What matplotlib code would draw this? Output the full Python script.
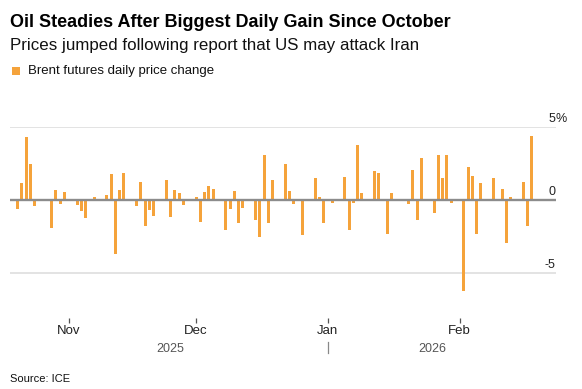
import datetime as dt

import matplotlib

matplotlib.use("Agg")

import matplotlib.pyplot as plt
import matplotlib.dates as mdates
from matplotlib.patches import Rectangle


# =========================
# DATA
# =========================

dates = [
    "2025-10-20", "2025-10-21", "2025-10-22", "2025-10-23", "2025-10-24",
    "2025-10-27", "2025-10-28", "2025-10-29", "2025-10-30", "2025-10-31",
    "2025-11-03", "2025-11-04", "2025-11-05", "2025-11-06", "2025-11-07",
    "2025-11-10", "2025-11-11", "2025-11-12", "2025-11-13", "2025-11-14",
    "2025-11-17", "2025-11-18", "2025-11-19", "2025-11-20", "2025-11-21",
    "2025-11-24", "2025-11-25", "2025-11-26", "2025-11-27", "2025-11-28",
    "2025-12-01", "2025-12-02", "2025-12-03", "2025-12-04", "2025-12-05",
    "2025-12-08", "2025-12-09", "2025-12-10", "2025-12-11", "2025-12-12",
    "2025-12-15", "2025-12-16", "2025-12-17", "2025-12-18", "2025-12-19",
    "2025-12-22", "2025-12-23", "2025-12-24", "2025-12-26",
    "2025-12-29", "2025-12-30", "2025-12-31", "2026-01-02",
    "2026-01-05", "2026-01-06", "2026-01-07", "2026-01-08", "2026-01-09",
    "2026-01-12", "2026-01-13", "2026-01-14", "2026-01-15", "2026-01-16",
    "2026-01-20", "2026-01-21", "2026-01-22", "2026-01-23",
    "2026-01-26", "2026-01-27", "2026-01-28", "2026-01-29", "2026-01-30",
    "2026-02-02", "2026-02-03", "2026-02-04", "2026-02-05", "2026-02-06",
    "2026-02-09", "2026-02-10", "2026-02-11", "2026-02-12", "2026-02-13",
    "2026-02-16", "2026-02-17", "2026-02-18",
]

pct_change = [
    -0.64, 1.18, 4.32, 2.50, -0.41,
    0.10, -1.95, 0.68, -0.25, 0.52,
    -0.36, -0.77, -1.25, -0.05, 0.18,
    0.34, 1.80, -3.70, 0.66, 1.86,
    -0.41, 1.20, -1.77, -0.70, -1.09,
    1.34, -1.16, 0.66, 0.50, -0.32,
    0.18, -1.48, 0.55, 0.95, 0.75,
    -2.07, -0.64, 0.64, -1.55, -0.55,
    -1.39, -2.52, 3.07, -1.55, 1.39,
    2.48, 0.64, -0.25, -2.39,
    1.52, 0.18, -1.57, -0.18,
    1.57, -2.05, -0.18, 3.80, 0.50,
    2.02, 1.82, -0.09, -2.34, 0.50,
    -0.25, 2.05, -1.39, 2.89,
    -0.91, 3.05, 1.52, 3.05, -0.23,
    -6.20, 2.25, 1.64, -2.34, 1.14,
    1.52, -0.07, 0.77, -2.95, 0.23,
    1.25, -1.77, 4.41,
]

y_ticks = [5, 0, -5]
y_tick_labels = ["5", "0", "-5"]

TITLE = "Oil Steadies After Biggest Daily Gain Since October"
SUBTITLE = "Prices jumped following report that US may attack Iran"
LEGEND_LABEL = "Brent futures daily price change"
SOURCE = "Source: ICE"

BAR_COLOR = "#f5a33b"
FONT = ["Liberation Sans", "DejaVu Sans"]


def draw_chart():

    plt.rcParams["font.family"] = FONT

    fig = plt.figure(figsize=(5.82, 3.89), dpi=100)

    W, H = 582, 389

    # plot box in pixels: x 10..556, y 127 (5%) .. 302 (-7)
    ax = fig.add_axes([10 / W, 1 - 302.2 / H, 546 / W, 175.2 / H])

    x = [dt.datetime.strptime(d, "%Y-%m-%d") for d in dates]
    xn = mdates.date2num(x)

    ax.bar(xn, pct_change, width=0.72, color=BAR_COLOR, zorder=2)

    ax.set_xlim(xn[0] - 1.8, xn[0] + 126.7)
    ax.set_ylim(-7, 5)

    # gridlines
    for v in y_ticks:
        if v == 0:
            ax.axhline(v, color="#8c8c8c", lw=1.7, zorder=3)
        else:
            ax.axhline(v, color="#e3e3e3", lw=1.4, zorder=1)

    # y labels on the right, sitting above the lines
    for v, lab in zip(y_ticks, y_tick_labels):
        ax.annotate(
            lab,
            xy=(1, v),
            xycoords=("axes fraction", "data"),
            xytext=(-0.5, 3.5),
            textcoords="offset points",
            ha="right",
            va="baseline",
            fontsize=9,
            color="#222222",
        )
    ax.annotate(
        "%",
        xy=(1, y_ticks[0]),
        xycoords=("axes fraction", "data"),
        xytext=(-0.5, 3.5),
        textcoords="offset points",
        ha="left",
        va="baseline",
        fontsize=9,
        color="#222222",
    )

    ax.set_yticks([])

    for s in ax.spines.values():
        s.set_visible(False)

    # month ticks
    ax.xaxis.set_major_locator(mdates.MonthLocator())
    ax.xaxis.set_major_formatter(mdates.DateFormatter("%b"))
    ax.spines["bottom"].set_position(("outward", 11.5))
    ax.tick_params(
        axis="x",
        length=3.6,
        width=0.9,
        color="#555555",
        pad=1.5,
        labelsize=9.5,
        labelcolor="#222222",
    )

    # year labels centred on each year's data
    jan1 = mdates.date2num(dt.datetime(2026, 1, 1))
    in_2025 = [v for v in xn if v < jan1]
    in_2026 = [v for v in xn if v >= jan1]
    for label, part in (("2025", in_2025), ("2026", in_2026)):
        ax.annotate(
            label,
            xy=((part[0] + part[-1]) / 2, 0),
            xycoords=("data", "axes fraction"),
            xytext=(0, -35.5),
            textcoords="offset points",
            ha="center",
            va="baseline",
            fontsize=9,
            color="#555555",
        )

    # year separator
    ax.axvline(jan1, ymin=-0.292, ymax=-0.23, color="#888888", lw=0.9, clip_on=False)

    # =========================
    # HEADER / LEGEND / SOURCE
    # =========================

    fig.text(10 / W, 1 - 26.7 / H, TITLE, fontsize=13, fontweight="bold", va="baseline", color="#000000")
    fig.text(10 / W, 1 - 50 / H, SUBTITLE, fontsize=12.2, va="baseline", color="#111111")

    fig.patches.append(
        Rectangle(
            (11.5 / W, 1 - 74.5 / H),
            8 / W,
            8 / H,
            transform=fig.transFigure,
            facecolor=BAR_COLOR,
            edgecolor="none",
        )
    )
    fig.text(28.5 / W, 1 - 74 / H, LEGEND_LABEL, fontsize=9.5, va="baseline", color="#111111")

    fig.text(10 / W, 1 - 382.5 / H, SOURCE, fontsize=8, va="baseline", color="#111111")

    fig.savefig("out.png", dpi=100)

    plt.close(fig)


if __name__ == "__main__":

    draw_chart()
